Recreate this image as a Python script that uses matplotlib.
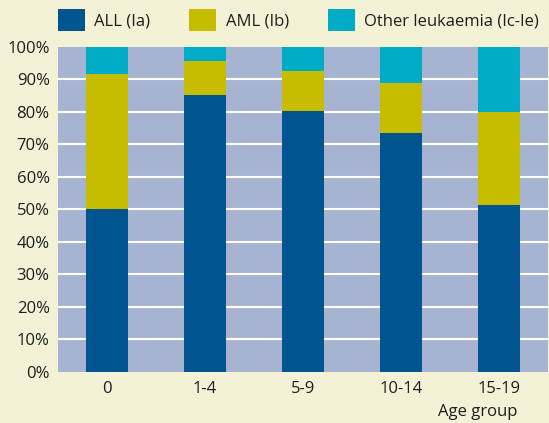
import matplotlib
matplotlib.use('Agg')
from matplotlib import pyplot as plt
import numpy as np

# data (percent of cases per age group)
age_groups = ['0', '1-4', '5-9', '10-14', '15-19']
all_pct = [50.0, 85.1, 80.1, 73.4, 51.3]
aml_pct = [41.6, 10.5, 12.3, 15.3, 28.5]
other_pct = [100 - a - b for a, b in zip(all_pct, aml_pct)]
series_names = ['ALL (Ia)', 'AML (Ib)', 'Other leukaemia (Ic-Ie)']
y_ticks = list(range(0, 101, 10))

c_all = '#00548f'
c_aml = '#c7bd00'
c_other = '#00abc6'
bg = '#f3f2d6'
plot_bg = '#a6b4d1'
txt = '#1e1e1e'

plt.rcParams['font.family'] = ['Open Sans', 'DejaVu Sans']
plt.rcParams['font.size'] = 12

W, H = 549, 423
fig = plt.figure(figsize=(W / 100, H / 100), dpi=100, facecolor=bg)
ax = fig.add_axes([58 / W, 1 - 371.7 / H, (547.7 - 58) / W, (371.7 - 46.7) / H])
ax.set_facecolor(plot_bg)

x = np.arange(len(age_groups))
w = 0.43
bottom2 = np.array(all_pct) + np.array(aml_pct)
b1 = ax.bar(x, all_pct, w, color=c_all, label=series_names[0], zorder=3)
b2 = ax.bar(x, aml_pct, w, bottom=all_pct, color=c_aml, label=series_names[1], zorder=3)
b3 = ax.bar(x, other_pct, w, bottom=bottom2, color=c_other, label=series_names[2], zorder=3)

ax.set_xlim(-0.5, len(age_groups) - 0.5)
ax.set_ylim(0, 100)
ax.set_yticks(y_ticks)
ax.set_yticklabels(['%d%%' % v for v in y_ticks])
ax.set_xticks(x)
ax.set_xticklabels(age_groups)
ax.tick_params(length=0, colors=txt, labelsize=12)
ax.tick_params(axis='y', pad=6)
ax.tick_params(axis='x', pad=7)
for s in ax.spines.values():
    s.set_visible(False)

ax.yaxis.grid(True, color='white', linewidth=1.5, zorder=1)
ax.set_axisbelow(True)
gl = ax.yaxis.get_gridlines()
gl[0].set_visible(False)
gl[-1].set_visible(False)

fig.text(517.5 / W, 1 - 416 / H, 'Age group', ha='right', va='baseline',
         color=txt, fontsize=12)

leg = fig.legend(handles=[b1, b2, b3], loc='upper left',
                 bbox_to_anchor=(58 / W, 1 - 9 / H), ncol=3, frameon=False,
                 borderaxespad=0, borderpad=0, handlelength=1.62,
                 handleheight=1.62, handletextpad=0.55, columnspacing=2.35,
                 fontsize=12)
for t in leg.get_texts():
    t.set_color(txt)

plt.savefig('out.png', dpi=100, facecolor=bg)
